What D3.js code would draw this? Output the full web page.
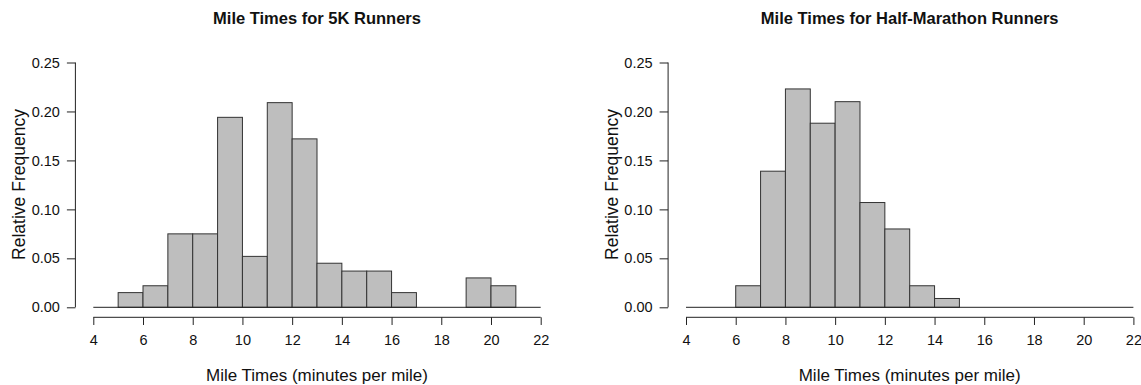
<!DOCTYPE html>
<html>
<head>
<meta charset="utf-8">
<script src="https://cdn.jsdelivr.net/npm/d3@7"></script>
<style>
  body { margin: 0; background: #fff; }
  text { font-family: "Liberation Sans", Arial, sans-serif; fill: #111; }
</style>
</head>
<body>
<div id="container"></div>
<script>
// Bin edges (minutes per mile), one bin per minute from 4 to 22
const binStarts = d3.range(4, 22);

// Relative frequencies
const fiveK = [0, 0.015, 0.022, 0.075, 0.075, 0.194, 0.052, 0.209, 0.172,
  0.045, 0.037, 0.037, 0.015, 0, 0, 0.030, 0.022, 0];
const halfMarathon = [0, 0, 0.022, 0.139, 0.223, 0.188, 0.210, 0.107, 0.080,
  0.022, 0.009, 0, 0, 0, 0, 0, 0, 0];

const xTicks = d3.range(4, 23, 2);
const yTicks = [0, 0.05, 0.10, 0.15, 0.20, 0.25];

const titles = ["Mile Times for 5K Runners", "Mile Times for Half-Marathon Runners"];

const width = 1141, height = 385;

const svg = d3.select("#container").append("svg")
  .attr("width", width)
  .attr("height", height);

// Draw one histogram panel; left = x position of the "4" tick
function drawPanel(values, title, left) {
  const x = d3.scaleLinear().domain([4, 22]).range([left, left + 447.4]);
  const y = d3.scaleLinear().domain([0, 0.25]).range([307.3, 62.5]);
  const yAxisX = x(3.28);
  const center = (x(3.28) + x(22.72)) / 2;

  const g = svg.append("g");

  // bars
  g.selectAll("rect")
    .data(values.map((v, i) => ({ x0: binStarts[i], v: v })).filter(d => d.v > 0))
    .enter().append("rect")
    .attr("x", d => x(d.x0))
    .attr("y", d => y(d.v))
    .attr("width", d => x(d.x0 + 1) - x(d.x0))
    .attr("height", d => y(0) - y(d.v))
    .attr("fill", "#bebebe")
    .attr("stroke", "#333")
    .attr("stroke-width", 1);

  // zero line across all bins
  g.append("line")
    .attr("x1", x(4)).attr("x2", x(22))
    .attr("y1", y(0)).attr("y2", y(0))
    .attr("stroke", "#222");

  // x axis
  const xAxis = g.append("g")
    .attr("transform", "translate(0,317.3)")
    .call(d3.axisBottom(x).tickValues(xTicks).tickSize(7.7).tickPadding(10).tickFormat(d3.format("d")));
  xAxis.attr("font-size", 14.5).attr("font-family", "Liberation Sans, Arial, sans-serif");
  xAxis.select(".domain").attr("d", `M${x(4)},0H${x(22)}`).attr("stroke", "#222");
  xAxis.selectAll(".tick line").attr("stroke", "#222");
  xAxis.selectAll("text").attr("fill", "#111");

  // y axis
  const yAxis = g.append("g")
    .attr("transform", `translate(${yAxisX},0)`)
    .call(d3.axisLeft(y).tickValues(yTicks).tickSize(8.5).tickPadding(7).tickFormat(d3.format(".2f")));
  yAxis.attr("font-size", 14.5).attr("font-family", "Liberation Sans, Arial, sans-serif");
  yAxis.select(".domain").attr("d", `M0,${y(0.25)}V${y(0)}`).attr("stroke", "#222");
  yAxis.selectAll(".tick line").attr("stroke", "#222");
  yAxis.selectAll("text").attr("fill", "#111");

  // title
  g.append("text")
    .attr("x", center).attr("y", 24)
    .attr("text-anchor", "middle")
    .attr("font-size", 16.5)
    .attr("font-weight", "bold")
    .text(title);

  // axis titles
  g.append("text")
    .attr("x", center).attr("y", 380.5)
    .attr("text-anchor", "middle")
    .attr("font-size", 17)
    .text("Mile Times (minutes per mile)");

  g.append("text")
    .attr("transform", `translate(${yAxisX - 50},184.5) rotate(-90)`)
    .attr("text-anchor", "middle")
    .attr("font-size", 17.5)
    .text("Relative Frequency");
}

drawPanel(fiveK, titles[0], 93.3);
drawPanel(halfMarathon, titles[1], 686);
</script>
</body>
</html>
